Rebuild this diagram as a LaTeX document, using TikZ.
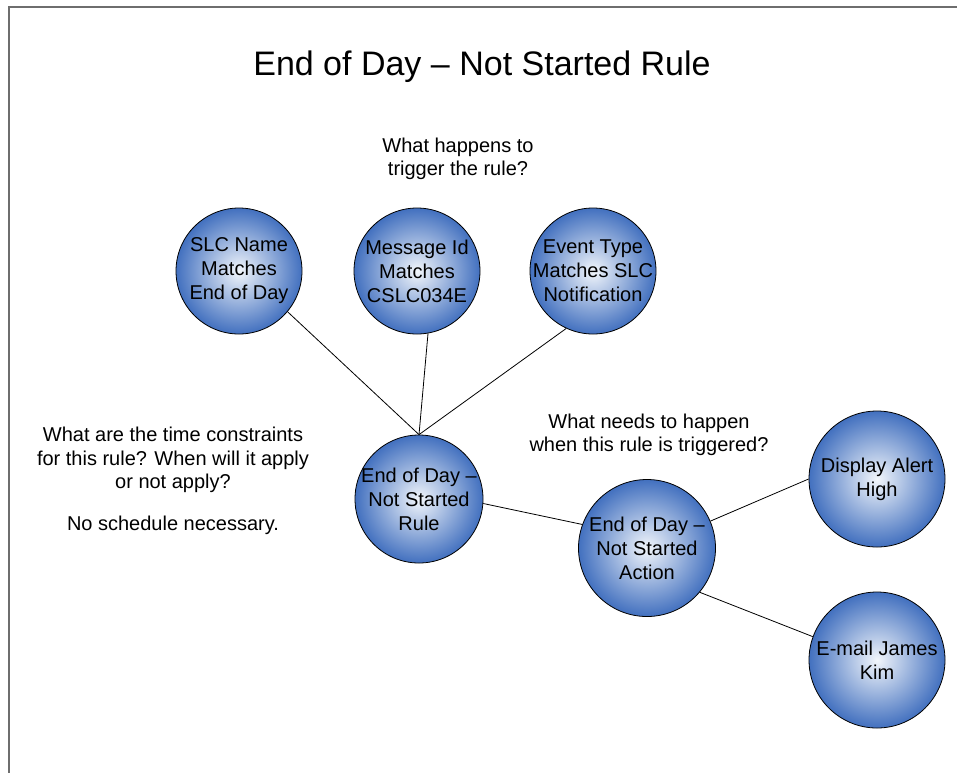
\documentclass[tikz,border=0pt]{standalone}
\usepackage{fontspec}
\setmainfont{Liberation Sans}
\definecolor{bin}{HTML}{F2F6FB}
\definecolor{bout}{HTML}{4270BF}
\definecolor{framegray}{HTML}{6E6E6E}
\begin{document}
\begin{tikzpicture}[x=1pt,y=-1pt,
  bubble/.style={circle,draw=black,line width=0.8pt,inner sep=0pt,shading=radial,inner color=bin,outer color=bout,minimum size=#1},
  bubtxt/.style={align=center,font=\fontsize{20}{24}\selectfont},
  qtext/.style={align=center,font=\fontsize{20}{23.5}\selectfont},
  link/.style={draw=black,line width=0.8pt}]
\useasboundingbox (0,0) rectangle (957,772);
\clip (0,0) rectangle (957,772);
\draw[framegray,line width=2pt] (8.5,6.5) rectangle (990,800);

\node[font=\fontsize{34}{40}\selectfont] (title) at (482,67) {End of Day – Not Started Rule};

\node[qtext] (q1) at (458,159) {What happens to\\trigger the rule?};
\node[qtext] (q2) at (173,460) {What are the time constraints\\for this rule? When will it apply\\or not apply?};
\node[qtext] (q3) at (173,525) {No schedule necessary.};
\node[qtext] (q4) at (649,435) {What needs to happen\\when this rule is triggered?};

\node[bubble=126pt,label={[bubtxt]center:SLC Name\\Matches\\End of Day}] (slc) at (239,271) {};
\node[bubble=126pt,label={[bubtxt]center:Message Id\\Matches\\CSLC034E}] (msg) at (417,271) {};
\node[bubble=126pt,label={[bubtxt]center:Event Type\\Matches SLC\\Notification}] (evt) at (593,271) {};
\node[bubble=128pt,label={[bubtxt]center:End of Day –\\Not Started\\Rule}] (rule) at (419,499) {};
\node[bubble=137pt,label={[bubtxt]center:End of Day –\\Not Started\\Action}] (act) at (647,548) {};
\node[bubble=136pt,label={[bubtxt]center:Display Alert\\High}] (disp) at (877,479) {};
\node[bubble=136pt,label={[bubtxt]center:E-mail James\\Kim}] (mail) at (877,660) {};

\draw[link] (slc.-40) -- (rule.north);
\draw[link] (msg.-80) -- (rule.north);
\draw[link] (evt.-115) -- (rule.north);
\draw[link] (rule.-4) -- (act.160);
\draw[link] (act.23) -- (disp.180);
\draw[link] (act.-40) -- (mail.160);
\end{tikzpicture}
\end{document}
